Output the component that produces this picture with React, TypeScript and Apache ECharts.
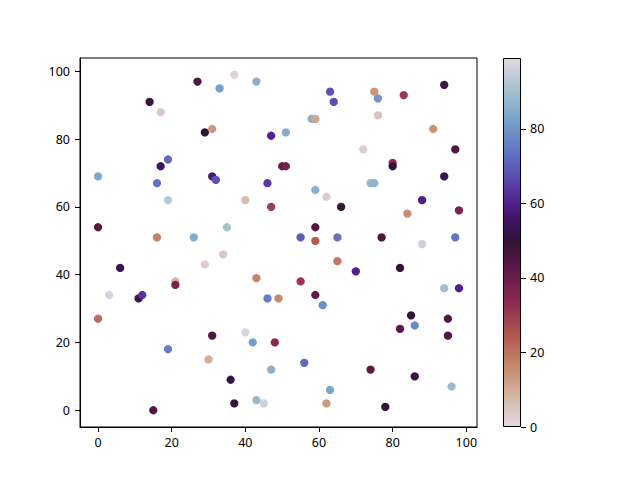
import React, { useEffect, useRef } from "react";
import * as echarts from "echarts";

// scatter data (x, y, colour value)
const xs = [27, 37, 33, 43, 14, 17, 29, 31, 47, 19, 17, 0, 16, 31, 32, 46, 19, 40, 47, 0, 16, 26, 35,
  94, 63, 64, 75, 76, 83, 76, 58, 59, 91, 51, 72, 97, 50, 51, 80, 80, 94, 74, 75, 59, 62, 66, 88, 84, 98,
  59, 55, 59, 65, 77, 88, 97,
  34, 29, 6, 43, 21, 21, 3, 11, 12, 46, 49, 0, 31, 40, 42, 48, 19, 30, 47, 36, 37, 43, 45, 15,
  65, 70, 82, 55, 59, 61, 94, 98, 85, 95, 82, 86, 95, 56, 74, 86, 63, 96, 62, 78];
const ys = [97, 99, 95, 97, 91, 88, 82, 83, 81, 74, 72, 69, 67, 69, 68, 67, 62, 62, 60, 54, 51, 51, 54,
  96, 94, 91, 94, 92, 93, 87, 86, 86, 83, 82, 77, 77, 72, 72, 73, 72, 69, 67, 67, 65, 63, 60, 62, 58, 59,
  54, 51, 50, 51, 51, 49, 51,
  46, 43, 42, 39, 38, 37, 34, 33, 34, 33, 33, 27, 22, 23, 20, 20, 18, 15, 12, 9, 2, 3, 2, 0,
  44, 41, 42, 38, 34, 31, 36, 36, 28, 27, 24, 25, 22, 14, 12, 10, 6, 7, 2, 1];
const cs = [45, 2, 82, 86, 48, 4, 50, 13, 60, 72, 55, 84, 74, 58, 68, 64, 93, 7, 29, 43, 17, 85, 91,
  47, 68, 67, 14, 80, 30, 5, 86, 11, 14, 85, 3, 45, 40, 38, 33, 50, 53, 88, 87, 86, 3, 49, 59, 15, 37,
  44, 70, 24, 74, 46, 96, 74,
  4, 3, 54, 17, 8, 37, 97, 54, 63, 76, 16, 21, 45, 97, 82, 34, 76, 9, 86, 52, 49, 88, 96, 45,
  19, 60, 50, 31, 42, 79, 90, 60, 49, 45, 43, 78, 44, 72, 42, 49, 83, 89, 13, 50];

const xTicks = [0, 20, 40, 60, 80, 100];
const yTicks = [0, 20, 40, 60, 80, 100];
const cTicks = [0, 20, 40, 60, 80];
const cMin = 0;
const cMax = 99;

// colormap (twilight_r look) stops: value -> colour
const cmapValues = [0, 7, 16, 25, 34, 43, 50, 56, 60, 66, 74, 83, 92, 99];
const cmapColors = ["#e2d9e2", "#d5bcae", "#c58a6d", "#b05550", "#8a2850", "#5a1846", "#2f1436",
  "#3f1468", "#52208a", "#5a46ae", "#6274c0", "#7aa4c8", "#afc6d0", "#e2d9e2"];

function hexToRgb(h: string) {
  const n = parseInt(h.slice(1), 16);
  return [(n >> 16) & 255, (n >> 8) & 255, n & 255];
}
function sampleCmap(v: number) {
  for (let i = 0; i < cmapValues.length - 1; i++) {
    if (v <= cmapValues[i + 1]) {
      const t = (v - cmapValues[i]) / (cmapValues[i + 1] - cmapValues[i]);
      const a = hexToRgb(cmapColors[i]);
      const b = hexToRgb(cmapColors[i + 1]);
      const c = a.map((x, k) => Math.round(x + (b[k] - x) * t));
      return `rgb(${c[0]},${c[1]},${c[2]})`;
    }
  }
  return cmapColors[cmapColors.length - 1];
}

export default function App() {
  const ref = useRef<HTMLDivElement>(null);
  useEffect(() => {
    if (!ref.current) return;
    const chart = echarts.init(ref.current, undefined, { renderer: "svg" });
    const N = 100;
    const even: string[] = [];
    for (let i = 0; i < N; i++) even.push(sampleCmap(cMin + ((cMax - cMin) * i) / (N - 1)));
    const stops = cmapValues.map((v, i) => ({ offset: 1 - (v - cMin) / (cMax - cMin), color: cmapColors[i] }));
    stops.reverse();
    const font = { fontFamily: "Noto Sans", fontSize: 12.5, color: "#000" };
    const data = xs.map((x, i) => [x, ys[i], cs[i]]);
    chart.setOption({
      animation: false,
      backgroundColor: "#fff",
      grid: [
        { left: 80, top: 58, width: 397, height: 369, show: true, borderColor: "#000", borderWidth: 1, backgroundColor: "transparent" },
        { left: 503, top: 58, width: 18, height: 369 },
      ],
      xAxis: [
        {
          type: "value", gridIndex: 0, min: -4.9, max: 102.9,
          axisLine: { show: true, onZero: false, lineStyle: { color: "#000", width: 1 } },
          axisTick: { show: true, length: 5, customValues: xTicks, lineStyle: { color: "#000" } },
          axisLabel: { ...font, margin: 9, customValues: xTicks },
          splitLine: { show: false },
        },
        { type: "category", gridIndex: 1, data: ["c"], show: false },
      ],
      yAxis: [
        {
          type: "value", gridIndex: 0, min: -4.95, max: 103.95,
          axisLine: { show: true, onZero: false, lineStyle: { color: "#000", width: 1 } },
          axisTick: { show: true, length: 5, customValues: yTicks, lineStyle: { color: "#000" } },
          axisLabel: { ...font, margin: 10, customValues: yTicks },
          splitLine: { show: false },
        },
        {
          type: "value", gridIndex: 1, min: cMin, max: cMax, position: "right",
          axisLine: { show: false },
          axisTick: { show: true, length: 5, customValues: cTicks, lineStyle: { color: "#000" } },
          axisLabel: { ...font, margin: 9, customValues: cTicks },
          splitLine: { show: false },
        },
      ],
      visualMap: {
        show: false, type: "continuous", seriesIndex: 0, dimension: 2,
        min: cMin, max: cMax, inRange: { color: even },
      },
      series: [
        {
          type: "scatter", xAxisIndex: 0, yAxisIndex: 0, symbolSize: 8.3, data,
          itemStyle: { opacity: 1 },
        },
        {
          type: "bar", xAxisIndex: 1, yAxisIndex: 1, barWidth: "100%", data: [cMax],
          itemStyle: {
            color: new echarts.graphic.LinearGradient(0, 0, 0, 1, stops),
            borderColor: "#000", borderWidth: 1,
          },
          silent: true,
        },
      ],
    });
    return () => chart.dispose();
  }, []);
  return <div ref={ref} style={{ position: "absolute", left: 0, top: 0, width: 640, height: 480 }} />;
}
